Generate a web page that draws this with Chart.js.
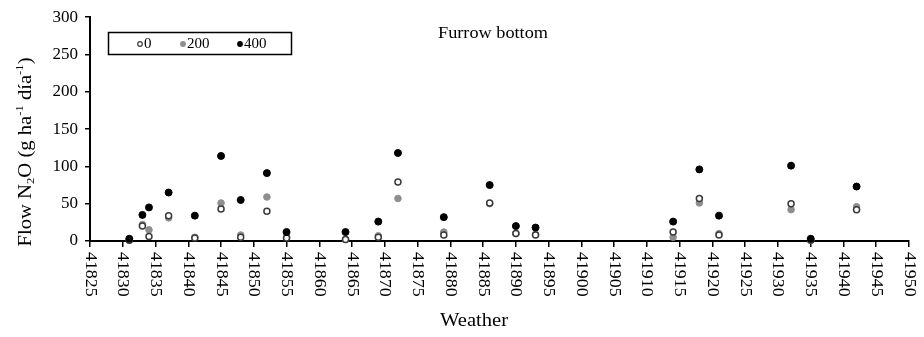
<!DOCTYPE html>
<html>
<head>
<meta charset="utf-8">
<script src="https://cdn.jsdelivr.net/npm/chart.js@4/dist/chart.umd.min.js"></script>
<style>
  html, body { margin: 0; padding: 0; background: #fff; }
  #wrap { width: 924px; height: 337px; }
</style>
</head>
<body>
<div id="wrap"><canvas id="n2oChart" width="924" height="337"></canvas></div>
<script>
// sampling dates (Excel serial numbers) and N2O flow per dose
const dates = [41831, 41833, 41834, 41837, 41841, 41845, 41848, 41852, 41855, 41864, 41869,
               41872, 41879, 41886, 41890, 41893, 41914, 41918, 41921, 41932, 41935, 41942];
const dose0 = [1, 20, 6, 34, 4, 43, 5, 40, 4, 2, 5, 79, 8, 51, 10, 8, 12, 57, 8, 50, 1, 42];
const dose200 = [1, 22, 15, 31, 5, 51, 8, 59, 5, 2, 7, 57, 12, 50, 10, 9, 5, 51, 10, 42, 1, 46];
const dose400 = [3, 35, 45, 65, 34, 114, 55, 91, 12, 12, 26, 118, 32, 75, 20, 18, 26, 96, 34, 101, 3, 73];

const seriesLabels = ['0', '200', '400'];
const xTicks = [41825, 41830, 41835, 41840, 41845, 41850, 41855, 41860, 41865, 41870, 41875, 41880, 41885,
                41890, 41895, 41900, 41905, 41910, 41915, 41920, 41925, 41930, 41935, 41940, 41945, 41950];
const yTicks = [0, 50, 100, 150, 200, 250, 300];

const FONT = '"Liberation Serif", "Times New Roman", serif';

const toPoints = (vals) => dates.map((d, i) => ({ x: d, y: vals[i] }));

// text squeezed/stretched to a given width, centred on x
function fillStretched(ctx, text, x, y, width) {
    const w = ctx.measureText(text).width;
    ctx.save();
    ctx.translate(x, y);
    ctx.scale(width / w, 1);
    ctx.textAlign = 'center';
    ctx.fillText(text, 0, 0);
    ctx.restore();
}

// custom drawing: rotated x labels, titles, legend box
const decorations = {
    id: 'decorations',
    afterDraw(chart) {
        const ctx = chart.ctx;
        const xs = chart.scales.x;
        const area = chart.chartArea;
        ctx.save();
        ctx.fillStyle = '#000';

        // x tick labels, reading top to bottom
        ctx.font = `17px ${FONT}`;
        ctx.textAlign = 'left';
        ctx.textBaseline = 'middle';
        xTicks.forEach(v => {
            const px = xs.getPixelForValue(v);
            ctx.save();
            ctx.translate(px, area.bottom + 11);
            ctx.rotate(Math.PI / 2);
            ctx.scale(1.05, 1);
            ctx.fillText(String(v), 0, 0);
            ctx.restore();
        });

        // x title
        ctx.font = `18px ${FONT}`;
        fillStretched(ctx, 'Weather', 474, 321, 68);

        // panel title
        ctx.font = `16px ${FONT}`;
        fillStretched(ctx, 'Furrow bottom', 493, 34, 110);

        // y title with sub/superscripts
        const parts = [
            { t: 'Flow N', s: 0 }, { t: '2', s: 1 }, { t: 'O (g ha', s: 0 },
            { t: '-1', s: 2 }, { t: ' día', s: 0 }, { t: '-1', s: 2 }, { t: ')', s: 0 }
        ];
        const big = `18px ${FONT}`, small = `11px ${FONT}`;
        let total = 0;
        parts.forEach(p => { ctx.font = p.s ? small : big; total += ctx.measureText(p.t).width; });
        ctx.save();
        ctx.translate(26, 152);
        ctx.rotate(-Math.PI / 2);
        ctx.scale(189 / total, 1);
        ctx.textAlign = 'left';
        ctx.textBaseline = 'middle';
        let cx = -total / 2;
        parts.forEach(p => {
            ctx.font = p.s ? small : big;
            const dy = p.s === 1 ? 5 : (p.s === 2 ? -6 : 0);
            ctx.fillText(p.t, cx, dy);
            cx += ctx.measureText(p.t).width;
        });
        ctx.restore();

        // legend box
        ctx.strokeStyle = '#000';
        ctx.lineWidth = 1.5;
        ctx.strokeRect(108.5, 32.5, 183, 22);
        const itemX = [140, 183, 240];
        ctx.font = `15px ${FONT}`;
        ctx.textAlign = 'left';
        chart.data.datasets.forEach((ds, i) => {
            ctx.beginPath();
            ctx.arc(itemX[i], 44, 2.3, 0, Math.PI * 2);
            ctx.fillStyle = ds.backgroundColor;
            ctx.fill();
            ctx.lineWidth = 1.2;
            ctx.strokeStyle = ds.borderColor;
            ctx.stroke();
            ctx.fillStyle = '#000';
            ctx.fillText(ds.label, itemX[i] + 4, 44);
        });
        ctx.restore();
    }
};

const ctx = document.getElementById('n2oChart').getContext('2d');
const n2oChart = new Chart(ctx, {
    type: 'scatter',
    data: {
        datasets: [
            {
                label: seriesLabels[0],
                data: toPoints(dose0),
                backgroundColor: '#ffffff',
                borderColor: '#3a3a3a',
                borderWidth: 1.5,
                pointRadius: 3,
                clip: false,
                order: 1,
            },
            {
                label: seriesLabels[1],
                data: toPoints(dose200),
                backgroundColor: '#8e8e8e',
                borderColor: '#8e8e8e',
                borderWidth: 1,
                pointRadius: 3.3,
                clip: false,
                order: 2,
            },
            {
                label: seriesLabels[2],
                data: toPoints(dose400),
                backgroundColor: '#000000',
                borderColor: '#000000',
                borderWidth: 1,
                pointRadius: 3.5,
                clip: false,
                order: 0,
            },
        ],
    },
    options: {
        responsive: false,
        animation: false,
        devicePixelRatio: 1,
        layout: { padding: { top: 10, right: 15, left: 0, bottom: 0 } },
        plugins: {
            legend: { display: false },
            tooltip: { enabled: false },
        },
        scales: {
            x: {
                type: 'linear',
                min: 41825,
                max: 41950,
                afterBuildTicks: (scale) => { scale.ticks = xTicks.map(v => ({ value: v })); },
                afterFit: (scale) => { scale.height = 96; },
                ticks: { display: false },
                grid: {
                    drawOnChartArea: false,
                    tickLength: 6,
                    tickColor: '#000',
                    lineWidth: 1.5,
                },
                border: { display: true, color: '#000', width: 2 },
            },
            y: {
                min: 0,
                max: 300,
                afterBuildTicks: (scale) => { scale.ticks = yTicks.map(v => ({ value: v })); },
                afterFit: (scale) => { scale.width = 90; },
                ticks: {
                    color: '#000',
                    font: { family: FONT, size: 17 },
                    padding: 7,
                },
                grid: {
                    drawOnChartArea: false,
                    tickLength: 5,
                    tickColor: '#000',
                    lineWidth: 1.5,
                },
                border: { display: true, color: '#000', width: 2 },
            },
        },
    },
    plugins: [decorations],
});
</script>
</body>
</html>
